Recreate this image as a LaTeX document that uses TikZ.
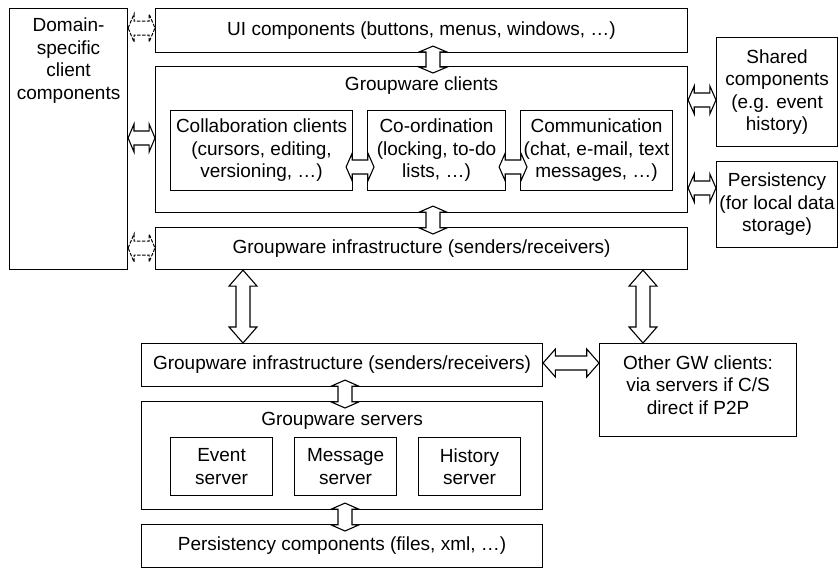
\documentclass[tikz,border=0pt]{standalone}
\usepackage{fontspec}
\setmainfont{Liberation Sans}
\usepackage{tikz}
\usetikzlibrary{calc}
\tikzstyle{box}=[draw=black, line width=1.1pt, anchor=north west, inner sep=0pt, align=center, font=\fontsize{19pt}{22.5pt}\selectfont]
\tikzstyle{lbl}=[inner sep=0pt, align=center, font=\fontsize{19pt}{22.5pt}\selectfont]
\tikzstyle{blk}=[draw=black, line width=1.1pt, fill=white, line join=miter]
\tikzstyle{blkdash}=[blk, line width=1pt, dash pattern=on 3.5pt off 1.5pt]

% hollow double arrows: #2 overlap, #3 upper/left anchor, #4 lower/right anchor, #5 x or y
\newcommand{\varr}[5][blk]{%
  \draw[#1] let \p1=(#3), \p2=(#4), \n1={0.22*(\y1-\y2+2*#2pt)} in
    (#5pt,\y1+#2pt) -- (#5pt+14pt,\y1+#2pt-\n1) -- (#5pt+7pt,\y1+#2pt-\n1)
    -- (#5pt+7pt,\y2-#2pt+\n1) -- (#5pt+14pt,\y2-#2pt+\n1) -- (#5pt,\y2-#2pt)
    -- (#5pt-14pt,\y2-#2pt+\n1) -- (#5pt-7pt,\y2-#2pt+\n1)
    -- (#5pt-7pt,\y1+#2pt-\n1) -- (#5pt-14pt,\y1+#2pt-\n1) -- cycle;}
\newcommand{\harr}[5][blk]{%
  \draw[#1] let \p1=(#3), \p2=(#4), \n1={0.22*(\x2-\x1+2*#2pt)} in
    (\x1-#2pt,-#5pt) -- (\x1-#2pt+\n1,-#5pt+14pt) -- (\x1-#2pt+\n1,-#5pt+7pt)
    -- (\x2+#2pt-\n1,-#5pt+7pt) -- (\x2+#2pt-\n1,-#5pt+14pt) -- (\x2+#2pt,-#5pt)
    -- (\x2+#2pt-\n1,-#5pt-14pt) -- (\x2+#2pt-\n1,-#5pt-7pt)
    -- (\x1-#2pt+\n1,-#5pt-7pt) -- (\x1-#2pt+\n1,-#5pt-14pt) -- cycle;}

\begin{document}
\begin{tikzpicture}[x=1pt, y=-1pt]
    \useasboundingbox (0,0) rectangle (839,568);
    % client side
    \node[box, minimum width=118pt, minimum height=261pt] (dom) at (9,8) {};
    \node[lbl, anchor=north] (domT) at ([yshift=-10pt]dom.north) {Domain-\\specific\\client\\components};
    \node[box, minimum width=532pt, minimum height=44pt] (ui) at (155,8) {UI components (buttons, menus, windows, …)};
    \node[box, minimum width=532pt, minimum height=146pt] (cl) at (155,66) {};
    \node[lbl, anchor=north] (clT) at ([yshift=-11pt]cl.north) {Groupware clients};
    \node[box, minimum width=182pt, minimum height=80pt] (collab) at (170,110) {Collaboration clients\\(cursors, editing,\\versioning, …)};
    \node[box, minimum width=138pt, minimum height=80pt] (coord) at (367,110) {Co-ordination\\(locking, to-do\\lists, …)};
    \node[box, minimum width=152pt, minimum height=80pt] (comm) at (520,110) {Communication\\(chat, e-mail, text\\messages, …)};
    \node[box, minimum width=532pt, minimum height=42pt] (infra) at (155,227) {Groupware infrastructure (senders/receivers)};
    \node[box, minimum width=121pt, minimum height=109pt] (shared) at (716,37) {Shared\\components\\(e.g. event\\history)};
    \node[box, minimum width=121pt, minimum height=86pt] (pers) at (716,161) {Persistency\\(for local data\\storage)};
    % server side
    \node[box, minimum width=401pt, minimum height=43pt] (linfra) at (141,343) {Groupware infrastructure (senders/receivers)};
    \node[box, minimum width=197pt, minimum height=93pt] (other) at (599,343) {};
    \node[lbl] (otherT) at ([yshift=5pt]other.center) {Other GW clients:\\via servers if C/S\\direct if P2P};
    \node[box, minimum width=401pt, minimum height=108pt] (srv) at (141,401) {};
    \node[lbl, anchor=north] (srvT) at ([yshift=-11pt]srv.north) {Groupware servers};
    \node[box, minimum width=102pt, minimum height=58pt] (event) at (170,437) {Event\\server};
    \node[box, minimum width=102pt, minimum height=58pt] (msg) at (294,437) {Message\\server};
    \node[box, minimum width=102pt, minimum height=58pt] (hist) at (418,437) {History\\server};
    \node[box, minimum width=401pt, minimum height=43pt] (pcomp) at (141,524) {Persistency components (files, xml, …)};
    % arrows
    \foreach \src/\dst/\lvl in
      {ui.south/cl.north/433, cl.south/infra.north/433, linfra.south/srv.north/345, srv.south/pcomp.north/345}
    \varr{7}{\src}{\dst}{\lvl};
    \foreach \src/\dst/\lvl in {infra.south/linfra.north/243, infra.south/other.north/643}
    \varr{0}{\src}{\dst}{\lvl};
    \foreach \src/\dst/\lvl in {collab.east/coord.west/167, coord.east/comm.west/167}
    \harr{7}{\src}{\dst}{\lvl};
    \foreach \src/\dst/\lvl in
      {dom.east/cl.west/138, cl.east/shared.west/100, cl.east/pers.west/188, linfra.east/other.west/363}
    \harr{0}{\src}{\dst}{\lvl};
    \foreach \src/\dst/\lvl in {dom.east/ui.west/28, dom.east/infra.west/248}
    \harr[blkdash]{0}{\src}{\dst}{\lvl};
\end{tikzpicture}
\end{document}
